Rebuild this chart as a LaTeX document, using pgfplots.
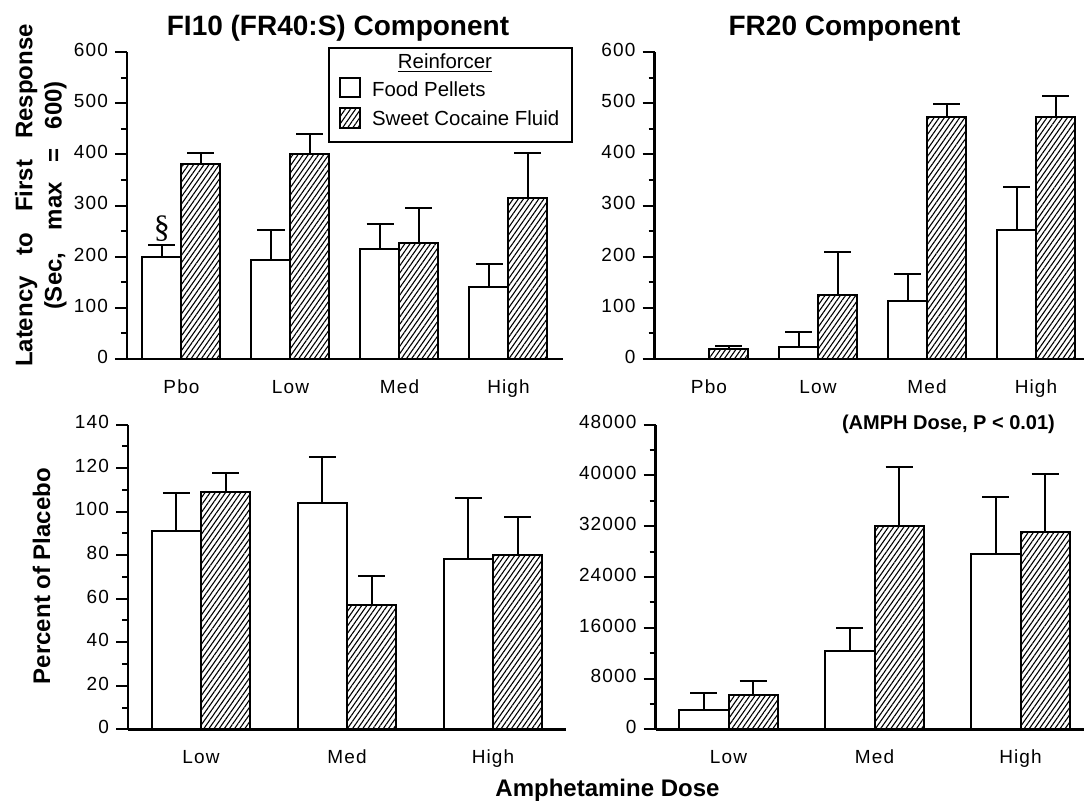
\documentclass[border=0pt]{standalone}
\usepackage{fontspec}
\setmainfont{Liberation Sans}
\newfontfamily\tickfont[LetterSpace=6]{Liberation Sans}
\newfontfamily\seriffont{Liberation Serif}
\usepackage{pgfplots}
\pgfplotsset{compat=1.18}
\usetikzlibrary{patterns,patterns.meta}

\pgfplotsset{
  panel/.style={
    scale only axis, anchor=south west,
    axis lines*=left, axis line style={line width=1.2pt},
    ymin=0, clip=false,
    tick align=outside, major tick length=6pt, minor tick length=3pt,
    tick style={black, line width=1pt},
    xtick=\empty,
    extra x tick style={major tick length=0pt, xticklabel style={yshift=-6pt}},
    tick label style={font=\tickfont\fontsize{9.5}{11}\selectfont},
    typeset ticklabels with strut,
    /pgf/number format/assume math mode=true,
    /pgf/number format/1000 sep={},
    scaled y ticks=false,
    ybar,
  },
  ebars/.style={error bars/y dir=plus, error bars/y explicit,
    error bars/error bar style={line width=1pt, black},
    error bars/error mark options={black, line width=1pt, mark size=6.75pt, rotate=90}},
  foodbar/.style={fill=white, draw=black, line width=1pt, ebars},
  cocbar/.style={pattern={Lines[angle=55,distance=2.1pt,line width=0.55pt]}, draw=black, line width=1pt, ebars},
}

\begin{document}
\begin{tikzpicture}
\path[use as bounding box] (0,0) rectangle (542pt,400pt);

% ---------- Top left: FI10 latency ----------
\begin{axis}[panel, at={(63.5pt,220.5pt)}, width=218pt, height=153.5pt,
  bar width=19.5pt,
  xmin=-0.5, xmax=3.5, ymax=600,
  ytick={0,100,...,600}, minor y tick num=1,
  minor xtick={-0.5,0.5,1.5,2.5,3.5},
  extra x ticks={0,1,2,3}, extra x tick labels={Pbo,Low,Med,High}]
\addplot[foodbar, bar shift=-9.75pt] coordinates {
  (0,199.6) +- (0,23.9)
  (1,194.4) +- (0,58.3)
  (2,214.5) +- (0,48.5)
  (3,140.0) +- (0,44.7)};
\addplot[cocbar, bar shift=9.75pt] coordinates {
  (0,381.0) +- (0,20.7)
  (1,400.4) +- (0,40.2)
  (2,226.8) +- (0,68.0)
  (3,315.0) +- (0,88.0)};
\node[font=\seriffont\fontsize{16}{16}\selectfont] at (axis cs:0,254) [xshift=-9.75pt] {§};
\end{axis}

% ---------- Top right: FR20 latency ----------
\begin{axis}[panel, at={(327.25pt,220.5pt)}, width=218pt, height=153.5pt,
  bar width=19.5pt,
  xmin=-0.5, xmax=3.5, ymax=600,
  ytick={0,100,...,600}, minor y tick num=1,
  minor xtick={-0.5,0.5,1.5,2.5},
  extra x ticks={0,1,2,3}, extra x tick labels={Pbo,Low,Med,High}]
\addplot[foodbar, bar shift=-9.75pt] coordinates {
  (1,22.7) +- (0,29.8)
  (2,113.4) +- (0,52.5)
  (3,252.0) +- (0,84.3)};
\addplot[cocbar, bar shift=9.75pt] coordinates {
  (0,19.4) +- (0,5.2)
  (1,125.0) +- (0,84.0)
  (2,473.0) +- (0,25.3)
  (3,473.7) +- (0,40.1)};
\end{axis}

% ---------- Bottom left: percent of placebo FI ----------
\begin{axis}[panel, at={(64pt,35.35pt)}, width=219pt, height=152.4pt,
  bar width=24.7pt,
  xmin=-0.5, xmax=2.5, ymax=140,
  ytick={0,20,...,140}, minor y tick num=1,
  minor xtick={-0.5,0.5,1.5,2.5},
  extra x ticks={0,1,2}, extra x tick labels={Low,Med,High}]
\addplot[foodbar, bar shift=-12.35pt] coordinates {
  (0,91.3) +- (0,17.1)
  (1,104.1) +- (0,20.9)
  (2,78.2) +- (0,28.2)};
\addplot[cocbar, bar shift=12.35pt] coordinates {
  (0,108.9) +- (0,8.8)
  (1,56.9) +- (0,13.6)
  (2,80.2) +- (0,17.2)};
\end{axis}

% ---------- Bottom right: percent of placebo FR ----------
\begin{axis}[panel, at={(327.75pt,35.35pt)}, width=219pt, height=152.4pt,
  bar width=24.7pt,
  xmin=-0.5, xmax=2.5, ymax=48000,
  ytick={0,8000,...,48000}, minor y tick num=1,
  minor xtick={-0.5,0.5,1.5},
  extra x ticks={0,1,2}, extra x tick labels={Low,Med,High}]
\addplot[foodbar, bar shift=-12.35pt] coordinates {
  (0,3033) +- (0,2667)
  (1,12340) +- (0,3608)
  (2,27608) +- (0,8993)};
\addplot[cocbar, bar shift=12.35pt] coordinates {
  (0,5334) +- (0,2300)
  (1,32000) +- (0,9360)
  (2,31111) +- (0,9046)};
\end{axis}

% ---------- Titles and labels ----------
\node[anchor=base, font=\bfseries\fontsize{14}{16}\selectfont] at (169pt,382.2pt) {FI10 (FR40:S) Component};
\node[anchor=base, font=\bfseries\fontsize{14}{16}\selectfont] at (422.25pt,382.2pt) {FR20 Component};
\node[anchor=base, rotate=90, font=\bfseries\fontsize{12}{14}\selectfont] at (16.15pt,302.25pt) {\makebox[171.5pt][s]{Latency to First Response}};
\node[anchor=base, rotate=90, font=\bfseries\fontsize{12}{14}\selectfont] at (30.85pt,302.25pt) {\makebox[114.5pt][s]{(Sec, max = 600)}};
\node[anchor=base, rotate=90, font=\bfseries\fontsize{12}{14}\selectfont] at (25pt,112pt) {Percent of Placebo};
\node[anchor=base, font=\bfseries\fontsize{12}{14}\selectfont] at (303.75pt,1.65pt) {Amphetamine Dose};
\node[anchor=base, font=\bfseries\fontsize{10}{12}\selectfont] at (474.25pt,185.5pt) {(AMPH Dose, P < 0.01)};

% ---------- Legend ----------
\draw[line width=1pt] (164.65pt,329.15pt) rectangle (286.15pt,375.85pt);
\node[anchor=base, font=\fontsize{10.2}{12}\selectfont] at (222.5pt,365.85pt) {\underline{Reinforcer}};
\draw[line width=1pt, fill=white] (170pt,351.35pt) rectangle (180pt,360.85pt);
\draw[line width=1pt, pattern={Lines[angle=55,distance=2.1pt,line width=0.55pt]}] (170pt,335.85pt) rectangle (180pt,345.85pt);
\node[anchor=base west, inner sep=0pt, font=\fontsize{10.2}{12}\selectfont] at (185.85pt,351.65pt) {Food Pellets};
\node[anchor=base west, inner sep=0pt, font=\fontsize{10.2}{12}\selectfont] at (185.85pt,337pt) {Sweet Cocaine Fluid};
\end{tikzpicture}
\end{document}
